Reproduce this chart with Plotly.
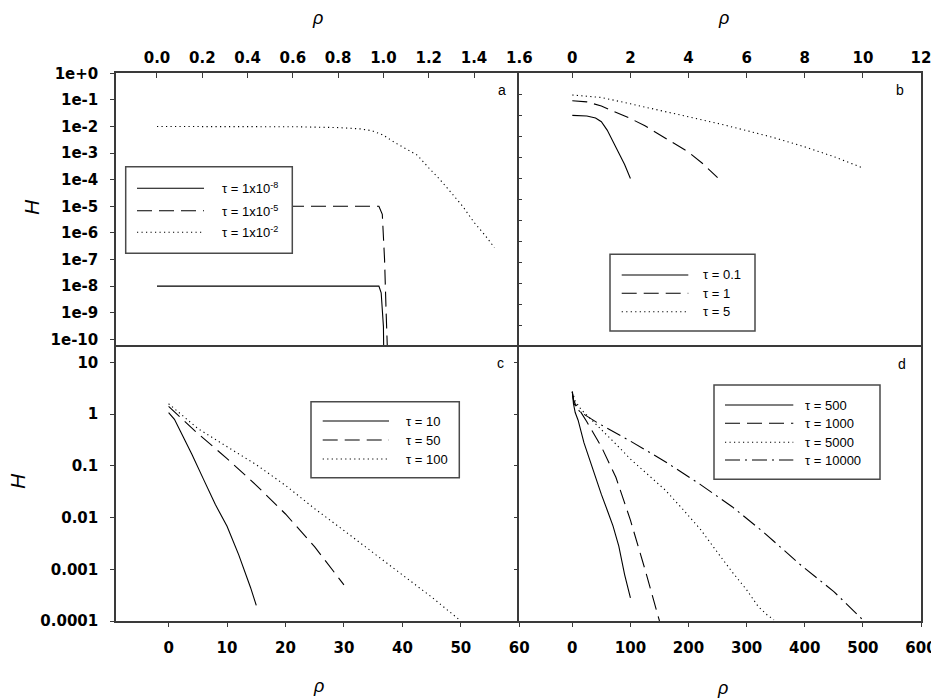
import plotly.graph_objects as go

W, HGT = 931, 700

# ---------------- data ----------------
# panel a
a_names = ["τ = 1x10<sup>-8</sup>", "τ = 1x10<sup>-5</sup>", "τ = 1x10<sup>-2</sup>"]
a_rho1 = [0, 0.5, 0.98, 0.99, 1.0, 1.002]
a_H1 = [1e-8, 1e-8, 1e-8, 5.6e-9, 3e-10, 1e-11]
a_rho2 = [0, 0.5, 0.98, 0.995, 1.005, 1.012, 1.02]
a_H2 = [1e-5, 1e-5, 1e-5, 5e-6, 1e-7, 1e-9, 1e-11]
a_rho3 = [0, 0.2, 0.4, 0.6, 0.8, 0.9, 0.95, 1.0, 1.05, 1.1, 1.15, 1.2, 1.25, 1.3, 1.35, 1.4, 1.45, 1.49]
a_H3 = [1e-2, 1e-2, 1e-2, 9.8e-3, 9.1e-3, 8.1e-3, 6.9e-3, 4.7e-3, 2.5e-3, 1.4e-3, 8.3e-4,
        2.8e-4, 1e-4, 3.2e-5, 1e-5, 2.5e-6, 7.9e-7, 2.8e-7]

# panel b
b_names = ["τ = 0.1", "τ = 1", "τ = 5"]
b_rho1 = [0, 0.5, 0.8, 1.0, 1.2, 1.4, 1.6, 1.8, 2.0]
b_H1 = [0.1, 0.093, 0.076, 0.05, 0.02, 6.0e-3, 1.8e-3, 4.7e-4, 1e-4]
b_rho2 = [0, 0.5, 1, 1.5, 2, 2.5, 3, 3.5, 4, 4.5, 5]
b_H2 = [0.5, 0.44, 0.28, 0.14, 0.071, 0.032, 0.0126, 5.0e-3, 1.8e-3, 5.0e-4, 1.1e-4]
b_rho3 = [0, 1, 2, 3, 4, 5, 6, 7, 8, 9, 10]
b_H3 = [0.93, 0.71, 0.355, 0.178, 0.089, 0.042, 0.019, 8.3e-3, 3.2e-3, 1.1e-3, 3.2e-4]

# panel c
c_names = ["τ = 10", "τ = 50", "τ = 100"]
c_rho1 = [0, 1, 2, 4, 6, 8, 10, 12, 14, 15]
c_H1 = [1.07, 0.79, 0.47, 0.166, 0.054, 0.0178, 6.8e-3, 1.9e-3, 4.5e-4, 2.0e-4]
c_rho2 = [0, 2, 5, 10, 15, 20, 25, 30]
c_H2 = [1.41, 0.87, 0.42, 0.138, 0.042, 0.0117, 2.7e-3, 5.0e-4]
c_rho3 = [0, 5, 10, 15, 20, 25, 30, 35, 40, 45, 50]
c_H3 = [1.58, 0.525, 0.234, 0.105, 0.0417, 0.0148, 5.6e-3, 2.1e-3, 7.9e-4, 2.9e-4, 1.0e-4]

# panel d
d_names = ["τ = 500", "τ = 1000", "τ = 5000", "τ = 10000"]
d_rho1 = [0, 2, 5, 10, 20, 30, 40, 50, 60, 70, 80, 90, 100]
d_H1 = [2.7, 1.58, 1.07, 0.76, 0.28, 0.126, 0.06, 0.028, 0.014, 6.9e-3, 2.8e-3, 7.9e-4, 2.8e-4]
d_rho2 = [0, 2, 5, 10, 25, 50, 75, 100, 125, 150]
d_H2 = [2.7, 1.9, 1.58, 1.32, 0.71, 0.234, 0.06, 8.9e-3, 1.0e-3, 1.0e-4]
d_rho3 = [0, 5, 15, 45, 75, 100, 130, 160, 190, 220, 250, 275, 300, 320, 335, 347]
d_H3 = [2.7, 1.78, 1.23, 0.575, 0.263, 0.135, 0.0676, 0.0339, 0.0145, 6.0e-3, 2.1e-3,
        8.9e-4, 4.0e-4, 1.9e-4, 1.32e-4, 1.05e-4]
d_rho4 = [0, 3, 13, 45, 100, 160, 220, 275, 330, 390, 450, 500]
d_H4 = [2.7, 1.58, 1.11, 0.66, 0.30, 0.12, 0.0437, 0.0162, 5.1e-3, 1.29e-3, 3.7e-4, 1.05e-4]

# tick labels
a_xticks = [0.0, 0.2, 0.4, 0.6, 0.8, 1.0, 1.2, 1.4, 1.6]
a_yticks = [1e0, 1e-1, 1e-2, 1e-3, 1e-4, 1e-5, 1e-6, 1e-7, 1e-8, 1e-9, 1e-10]
a_ytext = ["1e+0", "1e-1", "1e-2", "1e-3", "1e-4", "1e-5", "1e-6", "1e-7", "1e-8", "1e-9", "1e-10"]
b_xticks = [0, 2, 4, 6, 8, 10, 12]
b_yticks = [1e1, 1e0, 1e-1, 1e-2, 1e-3, 1e-4, 1e-5, 1e-6, 1e-7, 1e-8, 1e-9, 1e-10, 1e-11, 1e-12]
c_xticks = [0, 10, 20, 30, 40, 50, 60]
cd_yticks = [10, 1, 0.1, 0.01, 0.001, 0.0001]
cd_ytext = ["10", "1", "0.1", "0.01", "0.001", "0.0001"]
d_xticks = [0, 100, 200, 300, 400, 500, 600]

# ---------------- styling helpers ----------------
def fx(p):
    return p / W

def fy(p):
    return 1 - p / HGT

SOLID = "solid"
DASH = "15px,7px"
DOT = "1.2px,3.3px"
DASHDOT = "15px,5px,2px,5px"

AXC = "#3a3a3a"
TICKFONT = dict(family="DejaVu Sans", size=15, color="black", weight="bold")

fig = go.Figure()

panels = [
    ("x", "y", [(a_rho1, a_H1, SOLID), (a_rho2, a_H2, DASH), (a_rho3, a_H3, DOT)], a_names),
    ("x2", "y2", [(b_rho1, b_H1, SOLID), (b_rho2, b_H2, DASH), (b_rho3, b_H3, DOT)], b_names),
    ("x3", "y3", [(c_rho1, c_H1, SOLID), (c_rho2, c_H2, DASH), (c_rho3, c_H3, DOT)], c_names),
    ("x4", "y4", [(d_rho1, d_H1, SOLID), (d_rho2, d_H2, DASH), (d_rho3, d_H3, DOT),
                  (d_rho4, d_H4, DASHDOT)], d_names),
]

for xa, ya, series, names in panels:
    for (xs, ys, dash), nm in zip(series, names):
        fig.add_trace(go.Scatter(x=xs, y=ys, mode="lines", name=nm, xaxis=xa, yaxis=ya,
                                 line=dict(color="black", width=1.1, dash=dash),
                                 showlegend=False, hoverinfo="skip"))

common = dict(showline=True, linecolor=AXC, linewidth=1.5, showgrid=False,
              zeroline=False, tickcolor=AXC, tickwidth=1, tickfont=TICKFONT, automargin=False,
              ticklabeloverflow="allow")

row1 = [fy(347), fy(73.3)]
row2 = [fy(621), fy(347)]
col1 = [fx(116), fx(519.3)]
col2 = [fx(519.3), fx(921)]

fig.update_layout(
    xaxis=dict(domain=col1, anchor="y", side="top", range=[-0.181, 1.6], tickvals=a_xticks,
               ticktext=[f"{v:.1f}" for v in a_xticks], ticks="inside", ticklen=5,
               ticklabelstandoff=3, mirror=False, **common),
    yaxis=dict(domain=row1, anchor="x", type="log", range=[-10.29, 0], tickvals=a_yticks,
               ticktext=a_ytext, ticks="outside", ticklen=4, ticklabelstandoff=9,
               mirror=False, **common),
    xaxis2=dict(domain=col2, anchor="y2", side="top", range=[-1.824, 12], tickvals=b_xticks,
                ticktext=[str(v) for v in b_xticks], ticks="inside", ticklen=5,
                ticklabelstandoff=3, mirror=False, **common),
    yaxis2=dict(domain=row1, anchor="x2", type="log", range=[-12, 1], tickvals=b_yticks,
                showticklabels=False, ticks="inside", ticklen=3, mirror=True, **common),
    xaxis3=dict(domain=col1, anchor="y3", range=[-9, 60], tickvals=c_xticks,
                ticktext=[str(v) for v in c_xticks], ticks="outside", ticklen=4,
                ticklabelstandoff=8, mirror=True, **common),
    yaxis3=dict(domain=row2, anchor="x3", type="log", range=[-4, 1.296], tickvals=cd_yticks,
                ticktext=cd_ytext, ticks="outside", ticklen=4, ticklabelstandoff=9,
                mirror=False, **common),
    xaxis4=dict(domain=col2, anchor="y4", range=[-91.2, 600], tickvals=d_xticks,
                ticktext=[str(v) for v in d_xticks], ticks="outside", ticklen=4,
                ticklabelstandoff=8, mirror=True, **common),
    yaxis4=dict(domain=row2, anchor="x4", type="log", range=[-4, 1.296], tickvals=cd_yticks,
                showticklabels=False, ticks="outside", ticklen=4, mirror=True, **common),
    width=W, height=HGT, autosize=False,
    margin=dict(l=0, r=0, t=0, b=0, pad=0),
    paper_bgcolor="white", plot_bgcolor="white",
    showlegend=False,
)

# ---------------- legends (built from the series names / styles) ----------------
legends = [
    ((125.7, 292.3, 166.7, 253.3), 137, 204, 220, [188.3, 210.7, 232.3], panels[0]),
    ((610, 755, 254.3, 331), 621.7, 688.3, 701, [275, 293.3, 311.7], panels[1]),
    ((311, 459.3, 401.7, 477.7), 322.7, 389, 404, [421, 440, 459], panels[2]),
    ((714, 880, 385, 479.3), 725, 793.3, 803, [405, 423.3, 442.3, 460], panels[3]),
]

shapes = []
annotations = []
for (bx0, bx1, by0, by1), lx0, lx1, tx, rows, (xa, ya, series, names) in legends:
    shapes.append(dict(type="rect", xref="paper", yref="paper", x0=fx(bx0), x1=fx(bx1),
                       y0=fy(by1), y1=fy(by0), fillcolor="white",
                       line=dict(color="#4a4a4a", width=1.5), layer="above"))
    for (xs, ys, dash), nm, ry in zip(series, names, rows):
        shapes.append(dict(type="line", xref="paper", yref="paper", x0=fx(lx0), x1=fx(lx1),
                           y0=fy(ry), y1=fy(ry), line=dict(color="black", width=1.1, dash=dash),
                           layer="above"))
        annotations.append(dict(text=nm, xref="paper", yref="paper", x=fx(tx), y=fy(ry),
                                xanchor="left", yanchor="middle", showarrow=False,
                                font=dict(family="Liberation Sans", size=13, color="black")))

# panel letters
for letter, (lx, ly) in zip(["a", "b", "c", "d"], [(502, 89.5), (900, 90), (500, 363), (901.5, 364)]):
    annotations.append(dict(text=letter, xref="paper", yref="paper", x=fx(lx), y=fy(ly),
                            xanchor="center", yanchor="middle", showarrow=False,
                            font=dict(family="Liberation Sans", size=14, color="black")))

# axis titles
for (tx, ty) in [(317, 18), (723, 18), (318, 686), (722, 688)]:
    annotations.append(dict(text="ρ", xref="paper", yref="paper", x=fx(tx), y=fy(ty),
                            xanchor="center", yanchor="middle", showarrow=False,
                            font=dict(family="Liberation Sans", size=18, color="black",
                                      style="italic")))
for (tx, ty) in [(31, 207), (17, 481)]:
    annotations.append(dict(text="H", xref="paper", yref="paper", x=fx(tx), y=fy(ty),
                            xanchor="center", yanchor="middle", showarrow=False, textangle=-90,
                            font=dict(family="Liberation Sans", size=21, color="black",
                                      style="italic")))

fig.update_layout(shapes=shapes, annotations=annotations)

fig.write_html("out.html", config={"displayModeBar": False},
               post_script="document.body.style.margin='0px';")
